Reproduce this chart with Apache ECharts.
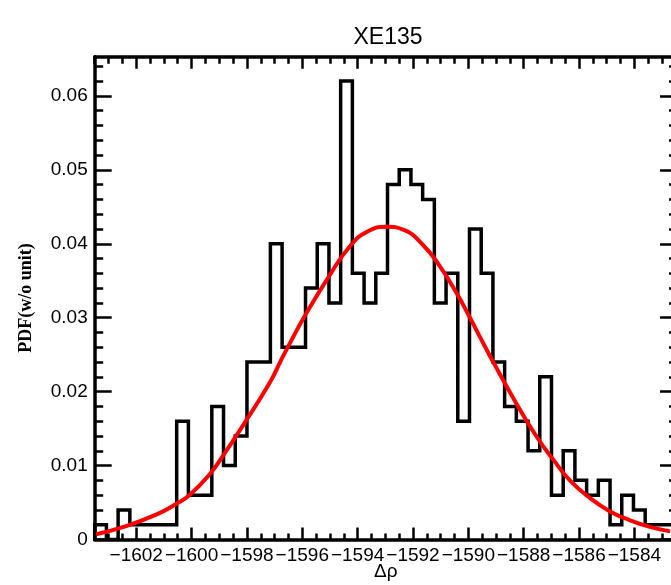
<!DOCTYPE html>
<html><head><meta charset="utf-8">
<script src="https://cdn.jsdelivr.net/npm/echarts@6/dist/echarts.min.js"></script>
<style>html,body{margin:0;padding:0;background:#fff}#c{width:671px;height:585px}</style>
</head><body><div id="c"></div>
<script>
// ---------- data ----------
const titleText = 'XE135';
const xName = 'Δρ';
const yName = 'PDF(w/o unit)';
const xTickLabels = [-1602, -1600, -1598, -1596, -1594, -1592, -1590, -1588, -1586, -1584];
const yTickLabels = [0, 0.01, 0.02, 0.03, 0.04, 0.05, 0.06];
// histogram: left edge of first bin, right edge of last bin, and bin heights
const histRange = [-1603.5, -1582.34];
const histValues = [0.002, 0, 0.004, 0.002, 0.002, 0.002, 0.002, 0.016, 0.006, 0.006,
  0.018, 0.010, 0.014, 0.024, 0.024, 0.040, 0.026, 0.026, 0.034, 0.040,
  0.032, 0.062, 0.036, 0.032, 0.036, 0.048, 0.050, 0.048, 0.046, 0.032,
  0.036, 0.016, 0.042, 0.036, 0.024, 0.018, 0.016, 0.012, 0.022, 0.006,
  0.012, 0.008, 0.006, 0.008, 0.002, 0.006, 0.004, 0.002, 0.002, 0.002];
// red fitted curve
const fitX = [-1603.45, -1602.46, -1601.26, -1600.56, -1600.05, -1599.33, -1598.85, -1598.13,
  -1597.16, -1596.80, -1596.44, -1595.90, -1595.00, -1594.27, -1593.67, -1592.95, -1592.35,
  -1591.63, -1591.02, -1590.42, -1589.94, -1589.58, -1589.10, -1588.25, -1587.53, -1586.93,
  -1586.33, -1585.60, -1584.88, -1584.16, -1583.44, -1582.71];
const fitY = [0.0007, 0.0017, 0.0034, 0.0048, 0.0061, 0.0089, 0.0114, 0.0155,
  0.0213, 0.0240, 0.0266, 0.0303, 0.0358, 0.0397, 0.0416, 0.0423, 0.0419,
  0.0398, 0.0369, 0.0333, 0.0300, 0.0274, 0.0240, 0.0183, 0.0139, 0.0108,
  0.0080, 0.0056, 0.0038, 0.0026, 0.0017, 0.0011];
const xRange = [-1603.5, -1582.46];
const yRange = [0, 0.0653];

// ---------- build ----------
const nb = histValues.length;
const bw = (histRange[1] - histRange[0]) / nb;
const histPts = [[histRange[0], 0]];
histValues.forEach((v, i) => {
  histPts.push([histRange[0] + i * bw, v]);
  histPts.push([histRange[0] + (i + 1) * bw, v]);
});
const fitPts = fitX.map((x, i) => [x, fitY[i]]);

const xMinor = [];
for (let v = -1603.5; v <= xRange[1] + 1e-9; v += 0.5) xMinor.push(+v.toFixed(2));
const yMinor = [];
for (let k = 0; k * 0.002 <= yRange[1] + 1e-9; k++) yMinor.push(+(k * 0.002).toFixed(3));

const font = 'Liberation Sans';
const lineW = 3.5;
function mkX(pos, vals, len, showLine, showLabel, extra) {
  return Object.assign({
    type: 'value', position: pos, min: xRange[0], max: xRange[1],
    axisLine: { show: showLine, onZero: false, lineStyle: { color: '#000', width: lineW } },
    axisTick: { show: true, inside: true, length: len, customValues: vals, lineStyle: { color: '#000', width: 2.5 } },
    axisLabel: showLabel ? { show: true, customValues: vals, margin: 7, hideOverlap: false,
      fontFamily: font, fontSize: 19, color: '#000',
      formatter: v => (v < 0 ? '\u2212' : '') + Math.abs(Math.round(v)) } : { show: false },
    splitLine: { show: false }
  }, extra || {});
}
function mkY(pos, vals, len, showLine, showLabel, extra) {
  return Object.assign({
    type: 'value', position: pos, min: yRange[0], max: yRange[1],
    axisLine: { show: showLine, onZero: false, lineStyle: { color: '#000', width: lineW } },
    axisTick: { show: true, inside: true, length: len, customValues: vals, lineStyle: { color: '#000', width: 2.5 } },
    axisLabel: showLabel ? { show: true, customValues: vals, margin: 7, hideOverlap: false,
      fontFamily: font, fontSize: 19, color: '#000',
      formatter: v => v === 0 ? '0' : v.toFixed(2) } : { show: false },
    splitLine: { show: false }
  }, extra || {});
}

const chart = echarts.init(document.getElementById('c'), null, { renderer: 'canvas' });
chart.setOption({
  animation: false,
  backgroundColor: '#fff',
  grid: { left: 94.7, top: 56.7, width: 582.3, height: 482.8, containLabel: false, outerBoundsMode: 'none' },
  graphic: [{
    type: 'text', x: 388, y: 38,
    style: { text: titleText, textAlign: 'center', textVerticalAlign: 'middle',
      font: '23px "Liberation Sans"', fill: '#000' }
  }],
  xAxis: [
    mkX('bottom', xTickLabels, 12, true, true, {
      name: xName, nameLocation: 'middle', nameGap: 23, nameMoveOverlap: false,
      nameTextStyle: { fontFamily: font, fontSize: 19, color: '#000' } }),
    mkX('bottom', xMinor, 6, false, false),
    mkX('top', xTickLabels, 12, true, false),
    mkX('top', xMinor, 7, false, false)
  ],
  yAxis: [
    mkY('left', yTickLabels, 17, true, true, {
      name: yName, nameLocation: 'middle', nameGap: 59, nameRotate: 90,
      nameTextStyle: { fontFamily: 'Liberation Serif', fontWeight: 'bold', fontSize: 18, color: '#000' } }),
    mkY('left', yMinor, 8.5, false, false),
    mkY('right', yTickLabels, 17, true, false),
    mkY('right', yMinor, 8, false, false)
  ],
  series: [
    { type: 'line', xAxisIndex: 0, yAxisIndex: 0, data: histPts, showSymbol: false, symbol: 'none',
      clip: true, lineStyle: { color: '#000', width: 3.5, join: 'miter', cap: 'square' }, z: 2 },
    { type: 'line', xAxisIndex: 0, yAxisIndex: 0, data: fitPts, showSymbol: false, symbol: 'none',
      smooth: 0.5, clip: true, lineStyle: { color: '#ff0000', width: 4 }, z: 3 }
  ]
});
</script></body></html>
